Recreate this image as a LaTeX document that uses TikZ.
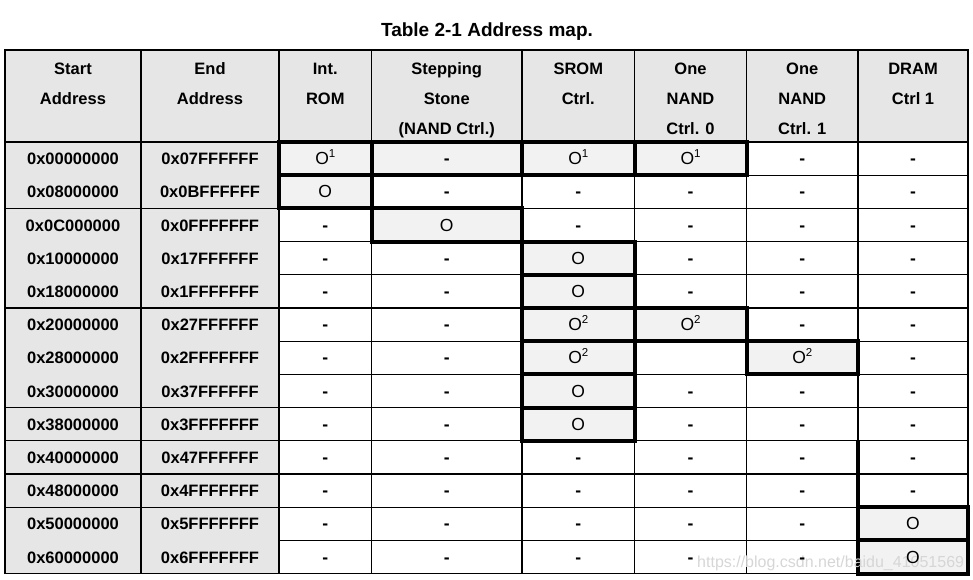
\documentclass[tikz,border=0pt]{standalone}
\usepackage{fontspec}
\setmainfont{Liberation Sans}
\definecolor{hdrgray}{RGB}{230,230,230}
\definecolor{hlgray}{RGB}{242,242,242}
\definecolor{wmgray}{RGB}{214,214,214}
\newcommand\Dsh{{\bfseries -}}
\newcommand\Oo{O}
\newcommand\Oa{O\raisebox{7.5pt}{\fontsize{11.5}{11.5}\selectfont 1}}
\newcommand\Ob{O\raisebox{7.5pt}{\fontsize{11.5}{11.5}\selectfont 2}}
\newcommand\Nn{}
\begin{document}
\begin{tikzpicture}[x=1pt,y=-1pt,
  thinline/.style={line width=1.3pt,black},
  boxline/.style={line width=4pt,black},
  hdr/.style={anchor=base,inner sep=0pt,font=\bfseries\fontsize{16.5}{20}\selectfont},
  addr/.style={anchor=base,inner sep=0pt,font=\bfseries\fontsize{16.5}{20}\selectfont},
  cellt/.style={anchor=base,inner sep=0pt,font=\fontsize{17.5}{20}\selectfont}]
\useasboundingbox (0,0) rectangle (973,579);
% title
\node[anchor=base,inner sep=0pt,font=\bfseries\fontsize{19}{19}\selectfont] (title) at (487,36) {Table 2-1 Address map.};
% fills
\fill[hdrgray] (5,50) rectangle (968,142);
\fill[hdrgray] (5,142) rectangle (279,573.6);
\foreach \xl/\xr/\yt/\yd in {279/371.5/142/175.2, 371.5/522/142/175.2, 522/634.5/142/175.2, 634.5/746.5/142/175.2,
  279/371.5/175.2/208.4, 371.5/522/208.4/241.6, 522/634.5/241.6/274.8, 522/634.5/274.8/308,
  522/634.5/308/341.2, 634.5/746.5/308/341.2, 522/634.5/341.2/374.4, 746.5/858/341.2/374.4,
  522/634.5/374.4/407.6, 522/634.5/407.6/440.8, 858/968/507.2/540.4, 858/968/540.4/573.6}{
  \fill[hlgray] (\xl,\yt) rectangle (\xr,\yd);
}
% thin grid
\foreach \k in {1,...,12}{
  \draw[thinline] (279,142+33.2*\k) -- (968,142+33.2*\k);
}
\foreach \k in {2,5,8,9,10,11}{
  \draw[thinline] (5,142+33.2*\k) -- (279,142+33.2*\k);
}
\foreach \xx in {141,279,371.5,522,634.5,746.5,858}{
  \draw[thinline] (\xx,50) -- (\xx,573.6);
}
\draw[thinline] (5,142) -- (968,142);
\draw[thinline] (5,50) rectangle (968,573.6);
% thick borders of highlighted boxes
\foreach \xl/\xr/\yt/\yd in {279/371.5/142/175.2, 371.5/522/142/175.2, 522/634.5/142/175.2, 634.5/746.5/142/175.2,
  279/371.5/175.2/208.4, 371.5/522/208.4/241.6, 522/634.5/241.6/274.8, 522/634.5/274.8/308,
  522/634.5/308/341.2, 634.5/746.5/308/341.2, 522/634.5/341.2/374.4, 746.5/858/341.2/374.4,
  522/634.5/374.4/407.6, 522/634.5/407.6/440.8, 858/968/507.2/540.4, 858/968/540.4/573.6}{
  \draw[boxline] (\xl,\yt) rectangle (\xr,\yd);
}
\draw[boxline] (858,440.8) -- (858,507.2);
% header
\foreach \cx/\n/\la/\lb/\lc in {73/a/Start/Address/,210/b/End/Address/,325.25/c/Int./ROM/,446.75/d/Stepping/Stone/(NAND Ctrl.),578.25/e/SROM/Ctrl./,690.5/f/One/NAND/Ctrl. 0,802.25/g/One/NAND/Ctrl. 1,913/h/DRAM/Ctrl 1/}{
  \node[hdr] (h\n1) at (\cx,74) {\la};
  \node[hdr] (h\n2) at (\cx,104) {\lb};
  \node[hdr] (h\n3) at (\cx,134) {\lc};
}
% watermark
\node[anchor=base west,inner sep=0pt,text=wmgray,font=\fontsize{16}{16}\selectfont] (wm) at (697,567) {https://blog.csdn.net/baidu\_41051569};
% rows
\foreach \r/\s/\e/\ca/\cb/\cc/\cd/\ce/\cf in {
 1/0x00000000/0x07FFFFFF/\Oa/\Dsh/\Oa/\Oa/\Dsh/\Dsh,
 2/0x08000000/0x0BFFFFFF/\Oo/\Dsh/\Dsh/\Dsh/\Dsh/\Dsh,
 3/0x0C000000/0x0FFFFFFF/\Dsh/\Oo/\Dsh/\Dsh/\Dsh/\Dsh,
 4/0x10000000/0x17FFFFFF/\Dsh/\Dsh/\Oo/\Dsh/\Dsh/\Dsh,
 5/0x18000000/0x1FFFFFFF/\Dsh/\Dsh/\Oo/\Dsh/\Dsh/\Dsh,
 6/0x20000000/0x27FFFFFF/\Dsh/\Dsh/\Ob/\Ob/\Dsh/\Dsh,
 7/0x28000000/0x2FFFFFFF/\Dsh/\Dsh/\Ob/\Nn/\Ob/\Dsh,
 8/0x30000000/0x37FFFFFF/\Dsh/\Dsh/\Oo/\Dsh/\Dsh/\Dsh,
 9/0x38000000/0x3FFFFFFF/\Dsh/\Dsh/\Oo/\Dsh/\Dsh/\Dsh,
 10/0x40000000/0x47FFFFFF/\Dsh/\Dsh/\Dsh/\Dsh/\Dsh/\Dsh,
 11/0x48000000/0x4FFFFFFF/\Dsh/\Dsh/\Dsh/\Dsh/\Dsh/\Dsh,
 12/0x50000000/0x5FFFFFFF/\Dsh/\Dsh/\Dsh/\Dsh/\Dsh/\Oo,
 13/0x60000000/0x6FFFFFFF/\Dsh/\Dsh/\Dsh/\Dsh/\Dsh/\Oo}{
  \pgfmathsetmacro\yb{142+33.2*(\r-0.5)+6}
  \node[addr] (s\r) at (73,\yb) {\s};
  \node[addr] (e\r) at (210,\yb) {\e};
  \node[cellt] (c\r a) at (325.25,\yb) {\ca};
  \node[cellt] (c\r b) at (446.75,\yb) {\cb};
  \node[cellt] (c\r c) at (578.25,\yb) {\cc};
  \node[cellt] (c\r d) at (690.5,\yb) {\cd};
  \node[cellt] (c\r e) at (802.25,\yb) {\ce};
  \node[cellt] (c\r f) at (913,\yb) {\cf};
}
\end{tikzpicture}
\end{document}
